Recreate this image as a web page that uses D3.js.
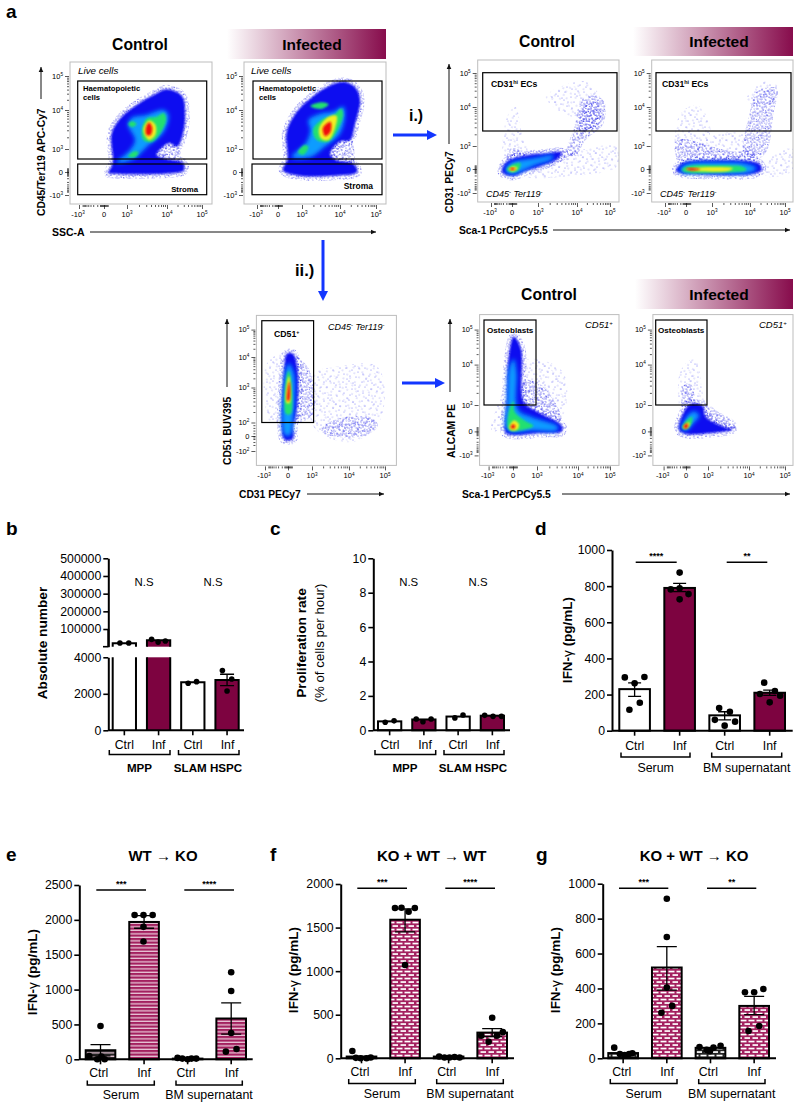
<!DOCTYPE html>
<html><head><meta charset="utf-8">
<script src="https://cdn.jsdelivr.net/npm/d3@7"></script>
<style>html,body{margin:0;padding:0;background:#fff}svg{display:block}text{font-family:"Liberation Sans",Arial,sans-serif;fill:#000}</style>
</head><body><div id="c"></div>
<script>
// ---------- bar chart data ----------
const groupsB=["MPP Ctrl","MPP Inf","SLAM Ctrl","SLAM Inf"];
const groupLabels=["Ctrl","Inf","Ctrl","Inf"];
const bValues=[19000,36000,2630,2760];
const bErr=[[null,null],[null,null],[null,null],[2450,3070]];
const bPoints=[[[-.19,21000],[.19,21000]],[[-.3,41500],[-.02,26000],[.29,32000]],[[-.2,2575],[.16,2666]],[[-.2,3270],[.2,2810],[0,2155]]];
const bTicksLow=[0,2000,4000], bTicksHigh=[100000,200000,300000,400000,500000];
const cValues=[.52,.63,.8,.85];
const cPoints=[[[-.19,.47],[.19,.55]],[[-.33,.66],[-.04,.5],[.31,.66]],[[-.14,.72],[.21,.89]],[[-.33,.87],[.03,.81],[.39,.81]]];
const dValues=[230,790,85,210];
const dErr=[[190,265],[770,815],[60,105],[195,225]];
const dPoints=[[[-.32,295],[.32,297],[0,262],[.17,155],[-.17,116]],[[0,875],[-.29,782],[0,788],[.29,756],[0,727]],[[-.18,125],[.17,105],[-.32,60],[.34,50],[0,28]],[[-.18,266],[.17,220],[-.32,203],[.34,194],[0,157]]];
const eValues=[130,1970,10,585];
const eErr=[[50,210],[1880,2060],[null,null],[360,810]];
const ePoints=[[[0,478],[-.38,48],[-.11,0],[.14,0],[.03,40]],[[-.32,2070],[-.02,2070],[.29,2070],[-.02,1900],[-.02,1690]],[[-.34,20],[-.18,10],[0,0],[.13,10],[.29,10]],[[0,1248],[0,980],[0,378],[-.18,110],[.18,148]]];
const fValues=[20,1590,20,295];
const fErr=[[null,null],[1450,1715],[null,null],[250,340]];
const fPoints=[[[-.31,84],[-.19,5],[-.03,0],[.17,0],[.31,10]],[[-.34,1724],[-.12,1728],[.12,1682],[.33,1724],[0,1070]],[[-.32,20],[-.14,10],[.03,10],[.2,15],[.37,10]],[[0,466],[-.37,260],[.16,260],[.36,300],[-.12,190]]];
const gValues=[30,520,60,300];
const gErr=[[null,null],[390,640],[null,null],[250,355]];
const gPoints=[[[-.3,61],[-.11,25],[.05,19],[.2,25],[.31,29]],[[0,914],[0,695],[0,405],[.18,300],[-.18,261]],[[-.37,65],[-.13,48],[-.02,40],[.1,61],[.34,72]],[[-.31,378],[0,378],[.31,397],[.17,185],[-.19,156]]];
const stars={d:["****","**"],e:["***","****"],f:["***","****"],g:["***","**"]};

// ---------- flow cytometry density outlines (read in axis units: -1=-10^3, 0=0, 1=10^3, 2=10^4, 3=10^5) ----------
const a1Blue=[[[.19,-.04],[.38,.39],[.33,1.4],[.77,1.83],[1.24,2.15],[1.66,2.44],[2,2.61],[2.43,2.41],[2.52,1.91],[2.46,1.4],[2.29,1.06],[2.05,1.15],[1.74,.74],[2,.56],[2.46,.39],[2.48,.07],[2,-.07],[1.16,-.1],[.26,-.07]]];
const a1Dense=[[[1.75,1.1],[2.3,1.15],[2.34,.35],[1.85,.35]]];
const a1Cyan=[[[.55,.44],[1.08,.97],[1.2,1.23],[1.03,1.62],[1.12,1.8],[1.5,1.88],[1.92,2],[2.04,1.87],[1.92,1.44],[1.5,1.06],[1.16,.56],[.55,.39]]];
const a1Green=[[[1.37,1.49],[1.5,1.79],[1.74,1.83],[1.92,1.92],[1.98,1.75],[1.83,1.4],[1.62,1.18],[1.41,1.23]],[[1.03,1.64],[1.13,1.71],[1.24,1.64],[1.13,1.56]],[[1.03,.67],[1.16,.89],[1.29,.86],[1.2,.64]]];
const a1Yellow=[[[1.41,1.49],[1.55,1.73],[1.71,1.62],[1.71,1.36],[1.55,1.23]]];
const a1Red=[[[1.47,1.53],[1.55,1.68],[1.63,1.56],[1.59,1.36],[1.49,1.36]]];

const a2Blue=[[[.21,.07],[.39,.54],[.36,1.44],[.79,1.96],[1.22,2.34],[1.65,2.67],[2.09,2.83],[2.42,2.67],[2.56,2.29],[2.42,1.65],[2.28,1.23],[2,1.19],[1.74,.78],[1.91,.51],[2.37,.36],[2.48,0],[1.84,-.16],[.93,-.16]]];
const a2Dense=[[[1.7,1.2],[2.3,1.25],[2.34,.35],[1.85,.35]]];
const a2Cyan=[[[.57,.65],[1.1,1.15],[1.22,1.49],[1.17,1.74],[1.5,1.91],[1.84,1.96],[2.09,2.1],[2.14,1.87],[2,1.4],[1.61,1.07],[1.22,.65]]];
const a2Green=[[[1.29,1.49],[1.5,1.74],[1.84,1.87],[2.04,2.04],[2.09,1.87],[1.91,1.44],[1.7,1.19],[1.39,1.23]],[[1.22,2.12],[1.5,2.23],[1.7,2.17],[1.51,2.03]],[[.83,.85],[1.06,1.1],[1.17,1.06],[1.04,.75]]];
const a2Yellow=[[[1.45,1.54],[1.7,1.83],[1.91,1.85],[1.87,1.54],[1.7,1.23],[1.5,1.27]]];
const a2Red=[[[1.55,1.54],[1.75,1.7],[1.75,1.44],[1.61,1.33]]];

const b1Sparse=[[[-.32,.4],[-.24,1.75],[.13,2],[.38,1.32],[.58,.69]],[[1.58,.54],[3.2,.97],[3.2,.11],[1.74,-.31],[.58,-.31]],[[1.2,2.3],[2.25,2.75],[2.7,2.2],[1.9,1.75]]];
const b1Dense=[[[1.74,.69],[1.91,1.41],[2.25,2.3],[2.8,2.2],[2.8,1.58],[2.25,1.15],[1.95,.54]],[[2.1,1.3],[2.2,2],[2.65,2.1],[2.7,1.6]],[[-.2,.3],[-.15,.85],[.15,.9],[.5,.6]],[[.9,.35],[1.7,.85],[1.9,.7],[1.5,.3]]];
const b1Blue=[[[-.48,-.1],[-.24,.33],[.45,.58],[1.2,.68],[1.6,.72],[1.5,.45],[1.1,.14],[.58,-.06],[0,-.29]]];
const b1Cyan=[[[-.32,-.03],[-.08,.26],[.83,.47],[1.4,.58],[1.35,.42],[.83,.14],[.19,-.17],[-.16,-.2]]];
const b1Green=[[[-.24,-.03],[0,.19],[.32,.26],[.26,-.03],[0,-.14]]];
const b1Yellow=[[[-.16,0],[.06,.11],[.22,.04],[.04,-.1]]];
const b1Red=[[[-.1,0],[.03,.05],[.13,0],[0,-.05]]];

const b2Sparse=[[[-.43,.76],[-.27,1.82],[.42,2.05],[.94,1.49],[.55,.76]],[[2.4,.23],[3.2,.89],[3.25,-.04],[2.47,-.3]],[[.3,.5],[1.83,.6],[1.83,1.3],[1.15,1.3],[.3,.9]],[[1.9,2.2],[2.4,2.75],[2.8,2.6],[2.6,2]]];
const b2Dense=[[[-.5,.63],[-.43,1.16],[1.57,.76],[2.1,.89],[2.1,.36],[-.27,.23]],[[1.83,.76],[2,1.86],[2.19,2.45],[2.76,2.55],[2.66,1.8],[2.47,.76],[2.1,.36]]];
const b2Blue=[[[-.47,-.04],[-.11,.28],[.94,.38],[2,.34],[2.29,.2],[2.33,-.04],[2.1,-.2],[.55,-.23],[-.27,-.17]]];
const b2Cyan=[[[-.31,-.04],[-.03,.2],[1.15,.29],[1.91,.23],[2.19,.03],[2,-.15],[.55,-.17],[-.1,-.17]]];
const b2Green=[[[-.19,-.04],[.04,.12],[1.15,.16],[1.83,.09],[1.91,-.04],[1.15,-.15],[.04,-.15]]];
const b2Yellow=[[[-.03,-.01],[.55,.07],[1.55,.03],[1.45,-.07],[.55,-.09]]];
const b2Red=[[[0,0],[.2,.04],[.55,-.01],[.2,-.06]]];

const c1Sparse=[[[-1,.56],[-.92,1.79],[-.12,2.14],[-.12,.05],[-.8,.05]],[[1.05,1.44],[1.62,1.67],[2.8,1.67],[2.9,.15],[2.1,-1.4],[1.05,-.33]]];
const c1Dense=[[[1.25,-.63],[1.55,.05],[2.6,.15],[2.8,-.2],[2.5,-.92],[1.65,-1.05]],[[.2,2.05],[.8,1.7],[1.05,1],[1.05,.3],[.7,.05],[.2,0]]];
const c1Blue=[[[-.19,-1.17],[-.16,1.67],[-.04,2.12],[.2,2.12],[.38,1.67],[.42,.9],[.3,.1],[.21,-.13],[.21,-1.17],[0,-1.3]]];
const c1Cyan=[[[-.15,-.92],[-.12,1.44],[.03,1.79],[.25,1.44],[.21,.05],[.1,-.92]]];
const c1Green=[[[-.09,.25],[-.07,1.32],[.03,1.55],[.13,1.2],[.12,.25]]];
const c1Yellow=[[[-.06,.56],[-.03,1.2],[.04,1.38],[.1,1.08],[.07,.56]]];
const c1Red=[[[-.03,.62],[0,1.02],[.06,1.2],[.09,.85],[.04,.62]]];

const c2Sparse=[[[-.85,0],[-.7,.82],[.48,2.13],[1.63,1.82],[1.6,.55],[.78,.7]]];
const c2Dense=[[[.3,.6],[.5,1.6],[1.1,1.5],[1.6,.4],[1,.4]]];
const c2Blue=[[[-.34,.07],[-.26,1.07],[-.19,2.13],[.03,2.8],[.33,2.45],[.45,1.07],[1,.75],[1.6,.22],[1.6,0],[1.06,-.07],[.03,-.15],[-.3,-.07]]];
const c2Cyan=[[[-.29,.14],[-.24,1.1],[-.15,1.92],[.03,2.16],[.15,1.8],[.21,.82],[.78,.55],[1.5,.2],[1.5,.04],[.78,.03],[-.04,-.03]]];
const c2Green=[[[-.22,.16],[-.15,.82],[.03,1.1],[.06,.75],[.48,.41],[.85,.2],[.33,.04],[-.12,.03]]];
const c2Yellow=[[[-.15,.16],[.03,.41],[.25,.27],[.18,.07],[-.09,.05]]];
const c2Red=[[[-.1,.16],[0,.27],[.1,.2],[.03,.1]]];

const c3Sparse=[[[-.2,.68],[-.24,1.85],[.43,2.16],[.92,1.1],[1.7,.27],[1.05,-.14],[.1,.55]]];
const c3Dense=[[[.7,.2],[.9,.9],[1.3,.7],[1.7,.15],[1.05,0]],[[-.15,.9],[-.1,1.5],[.25,1.5],[.3,.9]]];
const c3Blue=[[[-.32,.07],[-.13,.68],[.19,1.02],[.76,.96],[.9,.55],[1.4,.17],[1.6,.07],[1.06,-.07],[-.05,-.1]]];
const c3Cyan=[[[-.2,.1],[.03,.55],[.35,.75],[.6,.6],[.27,.25],[.03,.03]]];
const c3Green=[[[-.17,.14],[.03,.41],[.27,.55],[.27,.34],[.03,.1]]];
const c3Yellow=[[[-.13,.16],[.03,.31],[.16,.34],[.11,.16],[-.05,.1]]];
const c3Red=[[[-.1,.2],[.06,.3],[.08,.16],[-.05,.11]]];

const decadeMinors=[.3,.48,.6,.7,.78,.85,.9,.95];
const zeroCluster=[-.16,-.12,-.08,-.04,0,.04,.08,.12,.16];

// ---------- page ----------
const svg=d3.select("#c").append("svg").attr("width",800).attr("height",1108).attr("viewBox","0 0 800 1108");
const defs=svg.append("defs");
const maroon="#7d0340", crimson="#a3205f";

const grad=defs.append("linearGradient").attr("id","band");
grad.append("stop").attr("offset","0").attr("stop-color","#fff");
grad.append("stop").attr("offset","1").attr("stop-color","#870c4c");

[["blur1",.8],["blur2",1.3],["blur3",2]].forEach(([id,s])=>defs.append("filter").attr("id",id).attr("x","-30%").attr("y","-30%").attr("width","160%").attr("height","160%").append("feGaussianBlur").attr("stdDeviation",s));

function stipple(id,w,h,rot,pts,col,op){
  const p=defs.append("pattern").attr("id",id).attr("width",w).attr("height",h).attr("patternUnits","userSpaceOnUse").attr("patternTransform",`rotate(${rot})`);
  p.selectAll("circle").data(pts).join("circle").attr("cx",d=>d[0]).attr("cy",d=>d[1]).attr("r",.5).attr("fill",col).attr("opacity",op);
}
const tileA=[[1,2],[7,1],[13,5],[4,7],[10,9],[16,11],[2,13],[8,15],[14,16],[5,18],[11,3],[17,7]];
const tileB=[[1,1],[4,3],[7,1],[10,4],[2,5],[6,6],[9,8],[1,8],[4,10],[8,11],[3,7],[10,10],[6,3],[11,7]];
stipple("sp1",19,19,0,tileA,"#3030f0",.75);
stipple("sp2",18,18,23,tileA,"#2020e8",.6);
stipple("dn1",12,12,0,tileB,"#1010e0",.85);
stipple("dn2",11.5,11.5,37,tileB,"#1818e8",.75);

// bar fills
function stripes(id,col){
  const p=defs.append("pattern").attr("id",id).attr("width",4).attr("height",3.5).attr("patternUnits","userSpaceOnUse");
  p.append("rect").attr("width",4).attr("height",3.5).attr("fill","#e7c5d6");
  p.append("rect").attr("width",4).attr("height",2.2).attr("fill",col);
}
function bricks(id,col){
  const p=defs.append("pattern").attr("id",id).attr("width",8).attr("height",7).attr("patternUnits","userSpaceOnUse");
  p.append("rect").attr("width",8).attr("height",7).attr("fill",col);
  [[.5,1.2,5.5],[4.5,4.7,3.5],[0,4.7,2.5]].forEach(b=>p.append("rect").attr("x",b[0]).attr("y",b[1]).attr("width",b[2]).attr("height",1.7).attr("fill","#fff"));
}
stripes("stripeInf",crimson); stripes("stripeCtrl","#222");
bricks("brickInf",crimson); bricks("brickCtrl","#222");

function rich(x,y,str,o={}){
  const t=svg.append("text").attr("x",x).attr("y",y).attr("font-size",o.size||10).attr("font-weight",o.bold?"bold":"normal")
    .attr("font-style",o.italic?"italic":"normal").attr("text-anchor",o.anchor||"start");
  if(o.rotate) t.attr("transform",`rotate(-90 ${x} ${y})`);
  const size=o.size||10;
  let back=0;
  str.split(/(\^\{[^}]*\}|~\{[^}]*\})/).forEach(s=>{
    if(!s) return;
    if(s[0]==="^"){
      t.append("tspan").attr("dy",-size*.35).attr("font-size",size*.62).text(s.slice(2,-1));
      back=size*.35;
    } else {
      const sp=t.append("tspan").text(s[0]==="~"?s.slice(2,-1):s);
      if(s[0]==="~") sp.attr("font-weight","normal");
      if(back){sp.attr("dy",back);back=0;}
    }
  });
  return t;
}
function arrowBlack(x1,y1,x2,y2){
  svg.append("line").attr("x1",x1).attr("y1",y1).attr("x2",x2).attr("y2",y2).attr("stroke","#111").attr("stroke-width",1);
  const a=Math.atan2(y2-y1,x2-x1),l=5,w=2.3;
  const pts=[[x2,y2],[x2-l*Math.cos(a)+w*Math.sin(a),y2-l*Math.sin(a)-w*Math.cos(a)],[x2-l*Math.cos(a)-w*Math.sin(a),y2-l*Math.sin(a)+w*Math.cos(a)]];
  svg.append("polygon").attr("points",pts.join(" ")).attr("fill","#111");
}
function arrowBlue(x1,y1,x2,y2){
  const a=Math.atan2(y2-y1,x2-x1),l=10,w=5;
  const bx=x2-l*Math.cos(a),by=y2-l*Math.sin(a);
  svg.append("line").attr("x1",x1).attr("y1",y1).attr("x2",bx).attr("y2",by).attr("stroke","#1336ff").attr("stroke-width",3);
  svg.append("polygon").attr("points",[[x2,y2],[bx+w*Math.sin(a),by-w*Math.cos(a)],[bx-w*Math.sin(a),by+w*Math.cos(a)]].join(" ")).attr("fill","#1336ff");
}
function band(x,y,w,h,cx,cy){
  svg.append("rect").attr("x",x).attr("y",y).attr("width",w).attr("height",h).attr("fill","url(#band)");
  rich(cx,cy,"Infected",{size:15.5,bold:true,anchor:"middle"});
}

let clipN=0;
function flow(o){
  const [L,T,R,B]=o.frame;
  const sx=d3.scaleLinear().domain([-1,0,1,2,3]).range(o.xr);
  const yDom=o.yDom||[-1,0,1,2,3];
  const sy=d3.scaleLinear().domain(yDom).range(o.yr);
  const line=d3.line().x(d=>sx(d[0])).y(d=>sy(d[1])).curve(d3.curveCatmullRomClosed.alpha(.5));
  const id="clip"+(++clipN);
  defs.append("clipPath").attr("id",id).append("rect").attr("x",L).attr("y",T).attr("width",R-L).attr("height",B-T);
  const g=svg.append("g").attr("clip-path",`url(#${id})`);
  const layer=(polys,attrs)=>{
    const s=g.append("g").selectAll("path").data(polys||[]).join("path").attr("d",line);
    Object.entries(attrs).forEach(([k,v])=>s.attr(k,v));
  };
  ["sp1","sp2"].forEach(p=>{layer(o.sparse,{fill:`url(#${p})`});layer(o.dense,{fill:`url(#${p})`});});
  ["dn1","dn2"].forEach(p=>{
    layer(o.dense,{fill:`url(#${p})`});
    layer(o.blue,{fill:"none",stroke:`url(#${p})`,"stroke-width":9});
  });
  layer(o.blue,{fill:"#0808f0",filter:"url(#blur1)"});
  layer(o.cyan,{fill:"#089cff",filter:"url(#blur3)"});
  layer(o.green,{fill:"#20e070",filter:"url(#blur2)"});
  layer(o.yellow,{fill:"#f4ee20",filter:"url(#blur2)"});
  layer(o.red,{fill:"#f01010",filter:"url(#blur1)"});
  // frame
  svg.append("rect").attr("x",L).attr("y",T).attr("width",R-L).attr("height",B-T).attr("fill","none").attr("stroke","#bdbdbd").attr("stroke-width",1);
  // axes
  const minors=(maj)=>{
    const out=[...zeroCluster];
    maj.filter(v=>v>=1&&v<3).forEach(v=>decadeMinors.forEach(m=>out.push(v+m)));
    decadeMinors.forEach(m=>out.push(-m*.9));
    return out;
  };
  const ax=svg.append("g").attr("transform",`translate(0,${B+1})`);
  const ay=svg.append("g").attr("transform",`translate(${L-1},0)`);
  const style=(g)=>{g.select(".domain").remove();g.selectAll("line").attr("stroke","#111").attr("stroke-width",.7);};
  ax.append("g").call(d3.axisBottom(sx).tickValues([-1,0,1,2,3]).tickSize(4).tickFormat("")).call(style);
  ax.append("g").call(d3.axisBottom(sx).tickValues(minors([1,2])).tickSize(2).tickFormat("")).call(style);
  ay.append("g").call(d3.axisLeft(sy).tickValues(yDom).tickSize(4).tickFormat("")).call(style);
  if(!o.yDom) ay.append("g").call(d3.axisLeft(sy).tickValues(minors([1,2])).tickSize(2).tickFormat("")).call(style);
  else ay.append("g").call(d3.axisLeft(sy).tickValues(o.yMinors).tickSize(2).tickFormat("")).call(style);
  const xl=["-10^{3}","0","10^{3}","10^{4}","10^{5}"];
  [-1,0,1,2,3].forEach((v,i)=>rich(sx(v)+(v==0?0:v<0?-1:0),B+13,xl[i],{size:7.5,anchor:"middle"}));
  const yl=o.yLabels||["-10^{3}","0","10^{3}","10^{4}","10^{5}"];
  yDom.forEach((v,i)=>rich(L-7,sy(v)+2.5,yl[i],{size:7.5,anchor:"end"}));
  // gates
  (o.gates||[]).forEach(r=>svg.append("rect").attr("x",r[0]).attr("y",r[1]).attr("width",r[2]-r[0]).attr("height",r[3]-r[1]).attr("fill","none").attr("stroke","#000").attr("stroke-width",1.2));
}

// panel letters
[["a",6,18],["b",6,535],["c",270,535],["d",535,535],["e",6,861],["f",270,861],["g",536,861]].forEach(d=>rich(d[1],d[2],d[0],{size:19,bold:true}));

// ---- headers ----
rich(140,50,"Control",{size:15.7,bold:true,anchor:"middle"});
band(227,29,159,30,312,50);
rich(547,47,"Control",{size:15.7,bold:true,anchor:"middle"});
band(633,27,160,29,719,47);
rich(549,300,"Control",{size:15.7,bold:true,anchor:"middle"});
band(635,279,158,30,719,300);

flow({frame:[70,62,212,204],xr:[79,104,127,167,202],yr:[195,172,149,110,76],sparse:[],dense:a1Dense,blue:a1Blue,cyan:a1Cyan,green:a1Green,yellow:a1Yellow,red:a1Red,gates:[[77.7,81,206.7,159],[77.7,164,206.7,194.7]]});
rich(78,74,"Live cells",{size:9.8,italic:true});
rich(83,91,"Haematopoietic",{size:7.7,bold:true}); rich(83,100,"cells",{size:7.7,bold:true});
rich(198,192,"Stroma",{size:7.8,bold:true,anchor:"end"});

flow({frame:[244,62,386,204],xr:[257,278,302,340,376],yr:[195,172,149,110,76],sparse:[],dense:a2Dense,blue:a2Blue,cyan:a2Cyan,green:a2Green,yellow:a2Yellow,red:a2Red,gates:[[253,81,382,159],[252,164,382,194.7]]});
rich(251,74,"Live cells",{size:9.8,italic:true});
rich(259,91,"Haematopoietic",{size:7.7,bold:true}); rich(259,100,"cells",{size:7.7,bold:true});
rich(373,189,"Stroma",{size:8.5,bold:true,anchor:"end"});

rich(45,216,"CD45/Ter119 APC-Cy7",{size:10.3,bold:true,rotate:true});
arrowBlack(41,99,41,67);
rich(52,236,"SSC-A",{size:10.5,bold:true});
arrowBlack(90,232,376,232);

flow({frame:[477.7,60,619,202],xr:[491,512,538,577,610],yr:[193,169,146,107,73],sparse:b1Sparse,dense:b1Dense,blue:b1Blue,cyan:b1Cyan,green:b1Green,yellow:b1Yellow,red:b1Red,gates:[[482.7,72.7,617,131]]});
rich(491,87,"CD31^{hi} ECs",{size:8.7,bold:true});
rich(486,197,"CD45^{-} Ter119^{-}",{size:9,italic:true});

flow({frame:[651.7,60,793,202],xr:[665,686,712,750,785],yr:[193,169,146,107,73],sparse:b2Sparse,dense:b2Dense,blue:b2Blue,cyan:b2Cyan,green:b2Green,yellow:b2Yellow,red:b2Red,gates:[[656,72.7,791,131]]});
rich(662,87,"CD31^{hi} ECs",{size:8.7,bold:true});
rich(660,197,"CD45^{-} Ter119^{-}",{size:9,italic:true});

rich(453,213,"CD31 PECy7",{size:10.3,bold:true,rotate:true});
arrowBlack(449,144,449,64);
rich(459,234,"Sca-1 PcrCPCy5.5",{size:10.3,bold:true});
arrowBlack(553,230,790,230);

// blue arrows
arrowBlue(393,135,437,135);
rich(409,121,"i.)",{size:15.8,bold:true});
arrowBlue(323,240,323,301);
rich(295,276,"ii.)",{size:16.5,bold:true});
arrowBlue(402,383,445,383);

// ---- row 2 ----
flow({frame:[256.4,315.4,396.4,465.4],xr:[265,288,312,349,385],yDom:[-2,-1,0,1,2,3],yr:[451,436,422.5,387.5,357,329.6],yMinors:[.3,.48,.6,.7,.78,.85,.9,.95,1.3,1.48,1.6,1.7,1.78,1.85,1.9,1.95,2.3,2.48,2.6,2.7,2.78,2.85,2.9,2.95,-.2,-.4,-.6,-.8,-1,-1.1,-1.2,-1.4,-1.6],yLabels:["-10^{2}","0","10^{2}","10^{3}","10^{4}","10^{5}"],sparse:c1Sparse,dense:c1Dense,blue:c1Blue,cyan:c1Cyan,green:c1Green,yellow:c1Yellow,red:c1Red,gates:[[261.8,320.7,313.6,422.5]]});
rich(274,337,"CD51^{+}",{size:8.7,bold:true});
rich(328,330,"CD45^{-} Ter119^{-}",{size:9,italic:true});
rich(231,465,"CD51 BUV395",{size:10.3,bold:true,rotate:true});
arrowBlack(227,387,227,319);
rich(239,498,"CD31 PECy7",{size:10.3,bold:true});
arrowBlack(307,494,384,494);

flow({frame:[479.6,314.6,619,465.4],xr:[488.6,513,537,578,610],yr:[455.4,431.4,405,364.6,329.6],sparse:c2Sparse,dense:c2Dense,blue:c2Blue,cyan:c2Cyan,green:c2Green,yellow:c2Yellow,red:c2Red,gates:[[484,320,536,405]]});
rich(487,332.5,"Osteoblasts",{size:8.1,bold:true});
rich(585,328,"CD51^{+}",{size:9.5,italic:true});

flow({frame:[652.9,314.6,793,465.4],xr:[663.6,686,708,749,785],yr:[455.4,431.4,405,364.6,329.6],sparse:c3Sparse,dense:c3Dense,blue:c3Blue,cyan:c3Cyan,green:c3Green,yellow:c3Yellow,red:c3Red,gates:[[655.7,320,707,405]]});
rich(658,332.5,"Osteoblasts",{size:8.1,bold:true});
rich(759,328,"CD51^{+}",{size:9.5,italic:true});

rich(455,458,"ALCAM PE",{size:10.3,bold:true,rotate:true});
arrowBlack(450,392,450,319);
rich(462,498,"Sca-1 PerCPCy5.5",{size:10.3,bold:true});
arrowBlack(562,494,790,494);

// ---------- bar panels ----------
function axisStyle(g){
  g.select(".domain").attr("stroke","#000").attr("stroke-width",2);
  g.selectAll(".tick line").attr("stroke","#000").attr("stroke-width",1.6);
  g.selectAll(".tick text").attr("font-size",12.3).attr("font-family",'"Liberation Sans",Arial,sans-serif').attr("fill","#000");
}
function bars(o){
  const x=d3.scaleBand().domain(d3.range(4)).range(o.xRange).paddingInner(.32);
  const y=o.y;
  const bw=x.bandwidth();
  const g=svg.append("g");
  g.selectAll("rect.bar").data(o.values).join("rect").attr("class","bar")
    .attr("x",(d,i)=>x(i)).attr("width",bw).attr("y",d=>y(d)).attr("height",d=>y(0)-y(d))
    .attr("fill",(d,i)=>o.fills[i]).attr("stroke","#000").attr("stroke-width",2);
  svg.append("g").attr("transform",`translate(${o.axisX},0)`).call(d3.axisLeft(y).tickValues(o.ticks).tickFormat(d3.format("d")).tickSize(5).tickPadding(2).tickSizeOuter(0)).call(axisStyle);
  svg.append("line").attr("x1",o.axisX).attr("x2",o.axisEnd).attr("y1",y(0)).attr("y2",y(0)).attr("stroke","#000").attr("stroke-width",2);
  g.selectAll("line.xt").data(d3.range(4)).join("line").attr("x1",i=>x(i)+bw/2).attr("x2",i=>x(i)+bw/2).attr("y1",y(0)).attr("y2",y(0)+5).attr("stroke","#000").attr("stroke-width",1.6);
  drawErrDots(g,x,y,o.err,o.points,o.r,o.cap);
  return {x,y,bw};
}
function drawErrDots(g,x,y,err,points,r,cap){
  (err||[]).forEach((e,i)=>{
    if(e[0]==null) return;
    const cx=x(i)+x.bandwidth()/2;
    g.append("path").attr("d",`M${cx} ${y(e[0])}V${y(e[1])}M${cx-cap} ${y(e[0])}H${cx+cap}M${cx-cap} ${y(e[1])}H${cx+cap}`).attr("stroke","#000").attr("stroke-width",1.3).attr("fill","none");
  });
  points.forEach((ps,i)=>{
    g.selectAll(null).data(ps).join("circle").attr("cx",d=>x(i)+x.bandwidth()/2+d[0]*x.bandwidth()).attr("cy",d=>y(d[1])).attr("r",r).attr("fill","#000");
  });
}
function brackets(xs,labelY,brY,groups,groupY,bold,size){
  xs.forEach((cx,i)=>rich(cx,labelY,groupLabels[i],{size:12.3,anchor:"middle"}));
  groups.forEach(b=>{
    svg.append("path").attr("d",`M${b[0]} ${brY-4.5}V${brY}H${b[1]}V${brY-4.5}`).attr("fill","none").attr("stroke","#000").attr("stroke-width",1.5);
    rich(b[2],groupY,b[3],{size:size,bold:bold,anchor:"middle"});
  });
}
function sig(lines,y,labels){
  lines.forEach((l,i)=>{
    svg.append("line").attr("x1",l[0]).attr("x2",l[1]).attr("y1",y).attr("y2",y).attr("stroke","#000").attr("stroke-width",1.4);
    rich((l[0]+l[1])/2,y-3,labels[i],{size:9,bold:true,anchor:"middle"});
  });
}
function ifn(x,y){ rich(x,y,"IFN-~{γ} (pg/mL)",{size:13.5,bold:true,anchor:"middle",rotate:true}); }

// panel b : broken axis
(function(){
  const x=d3.scaleBand().domain(d3.range(4)).range([112.7,238.7]).paddingInner(.32);
  const bw=x.bandwidth();
  const yLow=d3.scaleLinear().domain([0,4000]).range([730.3,657.3]);
  const yHigh=d3.scaleLinear().domain([0,500000]).range([646.7,558.3]);
  const fills=["#fff",maroon,"#fff",maroon];
  const g=svg.append("g");
  bValues.forEach((v,i)=>{
    const high=v>4000;
    const topY=high?yLow(4000):yLow(v);
    g.append("rect").attr("x",x(i)).attr("width",bw).attr("y",topY).attr("height",yLow(0)-topY).attr("fill",fills[i]);
    g.append("path").attr("d",high?`M${x(i)} ${yLow(0)}V${topY}M${x(i)+bw} ${yLow(0)}V${topY}`:`M${x(i)} ${yLow(0)}V${topY}H${x(i)+bw}V${yLow(0)}`).attr("fill","none").attr("stroke","#000").attr("stroke-width",2);
    if(high){
      g.append("rect").attr("x",x(i)).attr("width",bw).attr("y",yHigh(v)).attr("height",yHigh(0)-yHigh(v)).attr("fill",fills[i]);
      g.append("path").attr("d",`M${x(i)} ${yHigh(0)}V${yHigh(v)}H${x(i)+bw}V${yHigh(0)}`).attr("fill","none").attr("stroke","#000").attr("stroke-width",2);
    }
  });
  svg.append("g").attr("transform","translate(108.3,0)").call(d3.axisLeft(yLow).tickValues(bTicksLow).tickFormat(d3.format("d")).tickSize(5).tickPadding(2).tickSizeOuter(0)).call(axisStyle);
  svg.append("g").attr("transform","translate(108.3,0)").call(d3.axisLeft(yHigh).tickValues(bTicksHigh).tickFormat(d3.format("d")).tickSize(5).tickPadding(2).tickSizeOuter(0)).call(axisStyle);
  svg.append("line").attr("x1",103).attr("x2",108.3).attr("y1",yHigh(0)).attr("y2",yHigh(0)).attr("stroke","#000").attr("stroke-width",1.6);
  svg.append("line").attr("x1",108.3).attr("x2",108.3).attr("y1",yHigh(0)).attr("y2",yHigh(100000)).attr("stroke","#000").attr("stroke-width",2);
  svg.append("line").attr("x1",108.3).attr("x2",244).attr("y1",yLow(0)).attr("y2",yLow(0)).attr("stroke","#000").attr("stroke-width",2);
  d3.range(4).forEach(i=>svg.append("line").attr("x1",x(i)+bw/2).attr("x2",x(i)+bw/2).attr("y1",yLow(0)).attr("y2",yLow(0)+5).attr("stroke","#000").attr("stroke-width",1.6));
  drawErrDots(g,x,yLow,bErr,[[],[],bPoints[2],bPoints[3]],2.8,7);
  drawErrDots(g,x,yHigh,[],[bPoints[0],bPoints[1],[],[]],2.8,7);
  brackets([124.3,158.7,193,227.5],748.5,754.5,[[109.3,170,139.5,"MPP"],[178.5,239,208,"SLAM HSPC"]],772,true,11.6);
  rich(144,586,"N.S",{size:11.4,anchor:"middle"}); rich(213,586,"N.S",{size:11.4,anchor:"middle"});
  rich(47,643,"Absolute number",{size:13.7,bold:true,anchor:"middle",rotate:true});
})();

// panel c
bars({xRange:[378,504],axisX:373.3,axisEnd:510,y:d3.scaleLinear().domain([0,10]).range([730.3,558.3]),ticks:d3.range(0,11,2),values:cValues,fills:["#fff",maroon,"#fff",maroon],err:[],points:cPoints,r:2.8,cap:7});
brackets([390,425,458,492.7],748.5,754.5,[[375,435.7,405,"MPP"],[444,504,473,"SLAM HSPC"]],772,true,11.6);
rich(408.7,586,"N.S",{size:11.4,anchor:"middle"}); rich(478,586,"N.S",{size:11.4,anchor:"middle"});
rich(306,643,"Proliferation rate",{size:13.7,bold:true,anchor:"middle",rotate:true});
rich(324,643,"(% of cells per hour)",{size:13.3,anchor:"middle",rotate:true});

// panel d
bars({xRange:[619.3,785],axisX:612,axisEnd:792.7,y:d3.scaleLinear().domain([0,1000]).range([730.7,550]),ticks:d3.range(0,1001,200),values:dValues,fills:["#fff",maroon,"#fff",maroon],err:dErr,points:dPoints,r:3.3,cap:6.5});
brackets([634.7,679.7,724.7,769.7],749.5,757,[[621,690,655.7,"Serum"],[711.7,781.7,746.7,"BM supernatant"]],771.5,false,12.4);
sig([[635.7,676.7],[726.7,767.3]],562.3,stars.d);
ifn(572,640);

// panel e
bars({xRange:[85.7,246],axisX:79.3,axisEnd:252.7,y:d3.scaleLinear().domain([0,2500]).range([1059.3,885]),ticks:d3.range(0,2501,500),values:eValues,fills:["url(#stripeCtrl)","url(#stripeInf)","url(#stripeCtrl)","url(#stripeInf)"],err:eErr,points:ePoints,r:3.3,cap:10});
brackets([98.7,144,186,231.7],1077,1085,[[87.3,154.3,121,"Serum"],[176,242.3,209,"BM supernatant"]],1099,false,12.4);
sig([[96.3,146],[184.3,234]],890,stars.e);
ifn(37,972);
rich(163,861,"WT → KO",{size:15,bold:true,anchor:"middle"});

// panel f
bars({xRange:[346.7,507],axisX:340.7,axisEnd:514,y:d3.scaleLinear().domain([0,2000]).range([1058.3,884]),ticks:d3.range(0,2001,500),values:fValues,fills:["url(#brickCtrl)","url(#brickInf)","url(#brickCtrl)","url(#brickInf)"],err:fErr,points:fPoints,r:3.3,cap:10});
brackets([360,405,446.7,492.3],1076,1083.5,[[348.7,415.3,382,"Serum"],[436.7,503.3,470,"BM supernatant"]],1098,false,12.4);
sig([[357.3,407],[445.3,495]],888.3,stars.f);
ifn(298,970);
rich(431.7,861,"KO + WT → WT",{size:15,bold:true,anchor:"middle"});

// panel g
bars({xRange:[608.3,769],axisX:602.7,axisEnd:776,y:d3.scaleLinear().domain([0,1000]).range([1058.3,883.7]),ticks:d3.range(0,1001,200),values:gValues,fills:["url(#brickCtrl)","url(#brickInf)","url(#brickCtrl)","url(#brickInf)"],err:gErr,points:gPoints,r:3.3,cap:10});
brackets([621.7,667,708.3,754],1076,1083.5,[[610.3,677,643.7,"Serum"],[698.7,765,731.7,"BM supernatant"]],1098,false,12.4);
sig([[619,668.3],[707,756.3]],888.3,stars.g);
ifn(560,970);
rich(694,861,"KO + WT → KO",{size:15,bold:true,anchor:"middle"});
</script></body></html>
